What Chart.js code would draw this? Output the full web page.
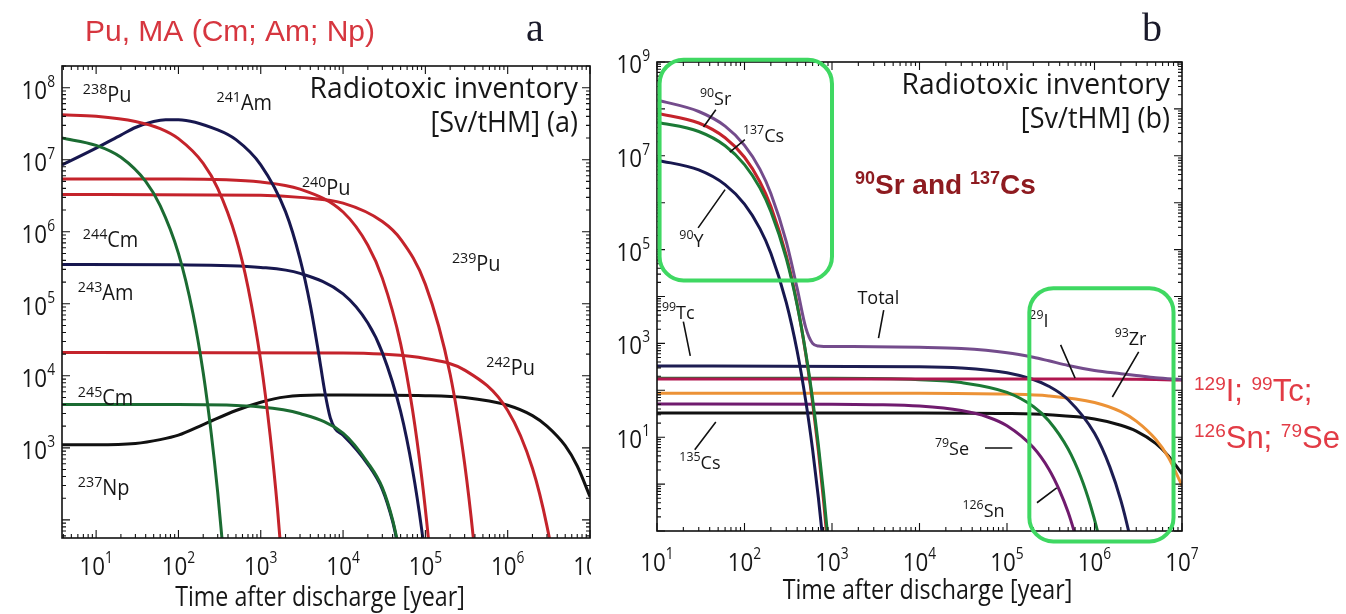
<!DOCTYPE html>
<html>
<head>
<meta charset="utf-8">
<script src="https://cdn.jsdelivr.net/npm/chart.js@4.4.1/dist/chart.umd.min.js"></script>
<style>
  html, body { margin: 0; padding: 0; background: #fff; }
  #wrap { position: relative; width: 1346px; height: 614px; }
  #boxA { position: absolute; left: 0; top: 0; width: 598px; height: 614px; }
  #boxB { position: absolute; left: 598px; top: 0; width: 748px; height: 614px; }
</style>
</head>
<body>
<div id="wrap">
  <div id="boxA"><canvas id="chartA"></canvas></div>
  <div id="boxB"><canvas id="chartB"></canvas></div>
</div>
<script>
// [time after discharge (year), radiotoxicity (Sv/tHM)]

// panel a: Pu and minor actinides
const pu238 = [[3.85, 4.2e7], [10, 4.0e7], [30, 3.4e7], [60, 2.7e7], [100, 1.96e7], [200, 8.9e6], [300, 4.0e6], [500, 8.3e5], [700, 1.7e5], [1000, 1.6e4], [1300, 1.5e3], [1600, 140], [2000, 6]];
const cm244 = [[3.85, 2.0e7], [10, 1.58e7], [20, 1.08e7], [40, 5.0e6], [60, 2.3e6], [100, 5.0e5], [150, 7.4e4], [200, 1.1e4], [250, 1.6e3], [300, 240], [350, 36], [400, 5.3]];
const am241 = [[3.85, 8.5e6], [5, 9.8e6], [10, 1.45e7], [20, 2.2e7], [30, 2.8e7], [50, 3.4e7], [70, 3.6e7], [100, 3.6e7], [300, 2.6e7], [500, 1.9e7], [1000, 8.5e6], [2000, 1.9e6], [3000, 4.2e5], [4000, 9.5e4], [5000, 2.2e4], [6000, 6.0e3], [7000, 2.6e3], [8000, 1.85e3], [1e4, 1.5e3], [2e4, 590], [3e4, 265], [4e4, 95], [4.5e4, 52], [5e4, 28]];
const pu240 = [[3.85, 5.4e6], [100, 5.4e6], [1000, 4.9e6], [3000, 3.9e6], [1e4, 1.88e6], [2e4, 6.5e5], [3e4, 2.27e5], [5e4, 2.8e4], [7e4, 3.3e3], [9e4, 400], [1.1e5, 49], [1.3e5, 6]];
const pu239 = [[3.85, 3.3e6], [1000, 3.2e6], [3000, 3.0e6], [1e4, 2.5e6], [3e4, 1.39e6], [5e4, 7.9e5], [1e5, 1.86e5], [2e5, 1.05e4], [3e5, 600], [4e5, 34], [5e5, 1.9]];
const am243 = [[3.85, 3.5e5], [100, 3.47e5], [1000, 3.2e5], [3000, 2.64e5], [1e4, 1.37e5], [2e4, 5.4e4], [3e4, 2.1e4], [5e4, 3.2e3], [7e4, 490], [9e4, 75], [1.1e5, 11]];
const pu242 = [[3.85, 2.1e4], [1e4, 2.08e4], [3e4, 2.0e4], [1e5, 1.74e4], [3e5, 1.2e4], [1e6, 3.3e3], [2e6, 520], [3e6, 82], [4e6, 13], [5e6, 2]];
const cm245 = [[3.85, 4.0e3], [100, 4.0e3], [1000, 3.7e3], [3000, 3.0e3], [1e4, 1.6e3], [2e4, 620], [3e4, 280], [4e4, 100], [4.5e4, 55], [5e4, 30], [6e4, 9]];
const np237 = [[3.85, 1.1e3], [10, 1.1e3], [30, 1.15e3], [60, 1.3e3], [100, 1.5e3], [200, 2.1e3], [500, 3.3e3], [1000, 4.3e3], [2000, 5.1e3], [5000, 5.4e3], [1e4, 5.4e3], [1e5, 5.3e3], [3e5, 5.0e3], [1e6, 3.9e3], [2e6, 2.8e3], [3e6, 2.0e3], [5e6, 1.07e3], [7e6, 560], [1e7, 210]];

// panel b: fission products
const total = [[10, 1.55e8], [30, 8.8e7], [60, 4.3e7], [100, 1.67e7], [150, 5.2e6], [200, 1.57e6], [300, 1.48e5], [400, 1.49e4], [500, 2.2e3], [600, 1.0e3], [700, 880], [1000, 856], [3000, 853], [1e4, 828], [3e4, 777], [1e5, 634], [2e5, 506], [3e5, 425], [5e5, 338], [1e6, 265], [2e6, 226], [3e6, 207], [5e6, 185], [1e7, 168]];
const sr90 = [[10, 8.1e7], [30, 5.0e7], [60, 2.43e7], [100, 9.3e6], [150, 2.8e6], [200, 8.4e5], [300, 7.5e4], [400, 6.8e3], [500, 610], [600, 55], [700, 5], [800, 0.45], [900, 0.04]];
const cs137 = [[10, 5.2e7], [30, 3.3e7], [60, 1.64e7], [100, 6.5e6], [150, 2.07e6], [200, 6.5e5], [300, 6.5e4], [400, 6.5e3], [500, 650], [600, 65], [700, 6.6], [800, 0.67], [900, 0.067]];
const y90 = [[10, 8.1e6], [30, 5.0e6], [60, 2.43e6], [100, 9.3e5], [150, 2.8e5], [200, 8.4e4], [300, 7.5e3], [400, 680], [500, 61], [600, 5.5], [700, 0.5], [800, 0.045]];
const tc99 = [[10, 330], [1e4, 319], [3e4, 300], [1e5, 237], [2e5, 170], [3e5, 122], [5e5, 63], [1e6, 12.1], [1.5e6, 2.3], [2e6, 0.45], [2.5e6, 0.086], [3e6, 0.017]];
const i129 = [[10, 175], [1e5, 175], [1e6, 174], [3e6, 171], [5e6, 169], [1e7, 165]];
const zr93 = [[10, 87], [1e4, 87], [1e5, 83], [3e5, 76], [1e6, 55], [2e6, 35], [3e6, 22], [5e6, 9.0], [7e6, 3.7], [1e7, 0.93]];
const se79 = [[10, 51], [1000, 50.5], [3000, 49.4], [1e4, 46], [3e4, 37], [6e4, 27], [1e5, 17.5], [2e5, 6.0], [3e5, 2.1], [4e5, 0.72], [5e5, 0.25], [6e5, 0.084], [7e5, 0.029]];
const cs135 = [[10, 33], [1e4, 33], [1e5, 32], [3e5, 30], [1e6, 24.4], [2e6, 18], [3e6, 13.5], [5e6, 7.4], [7e6, 4.0], [1e7, 1.65]];
const sn126 = [[10, 180], [1000, 180], [1e4, 168], [3e4, 146], [1e5, 90], [2e5, 45], [3e5, 22.5], [5e5, 5.6], [7e5, 1.4], [9e5, 0.35], [1.1e6, 0.088], [1.3e6, 0.022]];

// decade exponents that carry a tick label
const tickExpAx = [1, 2, 3, 4, 5, 6, 7];
const tickExpAy = [3, 4, 5, 6, 7, 8];
const tickExpBx = [1, 2, 3, 4, 5, 6, 7];
const tickExpBy = [1, 3, 5, 7, 9];

// curve labels: mass number, symbol, x, y (data units)
const isoA = [
  ['238', 'Pu', 6.9, 8e7], ['241', 'Am', 290, 6.2e7], ['240', 'Pu', 3160, 4.1e6],
  ['244', 'Cm', 6.9, 7.6e5], ['239', 'Pu', 2.1e5, 3.6e5], ['243', 'Am', 6.0, 1.4e5],
  ['242', 'Pu', 5.5e5, 1.3e4], ['245', 'Cm', 6.0, 4.9e3], ['237', 'Np', 6.0, 280]
];
const isoB = [
  ['90', 'Sr', 31, 1.7e8], ['137', 'Cs', 96, 2.8e7], ['90', 'Y', 18, 1.6e5],
  ['99', 'Tc', 11.4, 4.7e3], ['135', 'Cs', 18, 2.95], ['29', 'I', 1.8e5, 3.2e3],
  ['93', 'Zr', 1.7e6, 1.3e3], ['79', 'Se', 1.5e4, 5.9], ['126', 'Sn', 3.1e4, 0.28],
  ['', 'Total', 1950, 9.8e3]
];
// pointer lines x1, y1, x2, y2 (data units)
const ptrB = [
  [47, 9.6e7, 34, 4.1e7], [101, 2.2e7, 68, 1.2e7], [29.5, 2.9e5, 60, 1.9e6],
  [3900, 5.1e3, 3400, 1.3e3], [20, 2.9e3, 24, 540], [27, 5.4, 47, 21],
  [4.1e5, 930, 6e5, 182], [3.2e6, 660, 1.6e6, 72], [5.6e4, 5.9, 1.15e5, 5.9],
  [2.2e5, 0.4, 3.7e5, 0.83]
];
// highlighted regions x1, y1, x2, y2 (data units)
const boxB = [[10.7, 1.12e9, 1000, 2.2e4], [1.8e5, 1.5e4, 8e6, 0.06]];

const FONT = '"Open Sans", "Noto Sans", sans-serif';
const ARIAL = '"Liberation Sans", Arial, sans-serif';
const SERIF = '"Liberation Serif", "DejaVu Serif", serif';
const HS = 0.86;

// draw text runs [text, size, raise] left to right from a baseline
function runs(ctx, x, y, parts, o = {}) {
  const sx = o.squeeze || 1;
  const fam = o.family || FONT;
  const wt = o.weight || 400;
  ctx.save();
  ctx.fillStyle = o.color || '#161616';
  ctx.textBaseline = 'alphabetic';
  ctx.textAlign = 'left';
  let w = 0;
  for (const [t, s] of parts) {
    ctx.font = `${wt} ${s}px ${fam}`;
    w += ctx.measureText(t).width;
  }
  let cx = x;
  if (o.align === 'center') cx = x - w * sx / 2;
  if (o.align === 'right') cx = x - w * sx;
  ctx.translate(cx, y);
  ctx.scale(sx, 1);
  let px = 0;
  for (const [t, s, r] of parts) {
    ctx.font = `${wt} ${s}px ${fam}`;
    ctx.fillText(t, px, -(r || 0));
    px += ctx.measureText(t).width;
  }
  ctx.restore();
}

function logTicks(min, max) {
  const out = [];
  for (let e = Math.floor(Math.log10(min)); e <= Math.ceil(Math.log10(max)); e++) {
    for (let k = 1; k < 10; k++) {
      const v = k * Math.pow(10, e);
      if (v >= min * 0.999 && v <= max * 1.001) out.push([v, k === 1]);
    }
  }
  return out;
}

function roundBox(ctx, x1, y1, x2, y2, r) {
  ctx.beginPath();
  ctx.moveTo(x1 + r, y1);
  ctx.arcTo(x2, y1, x2, y2, r);
  ctx.arcTo(x2, y2, x1, y2, r);
  ctx.arcTo(x1, y2, x1, y1, r);
  ctx.arcTo(x1, y1, x2, y1, r);
  ctx.closePath();
  ctx.stroke();
}

const panels = {
  chartA: {xExp: tickExpAx, yExp: tickExpAy, iso: isoA, ptr: [], boxes: [], tag: '(a)', clipX: 591, mass: 15, sym: 21, xLab: 37, titleDx: -6},
  chartB: {xExp: tickExpBx, yExp: tickExpBy, iso: isoB, ptr: ptrB, boxes: boxB, tag: '(b)', clipX: 9999, mass: 13, sym: 19, xLab: 40, titleDx: 8}
};

const frame = {
  id: 'frame',
  afterDraw(chart) {
    const p = panels[chart.canvas.id];
    const {ctx, chartArea: a} = chart;
    const xs = chart.scales.x, ys = chart.scales.y;
    ctx.save();
    // axes box with inward ticks
    ctx.strokeStyle = '#111';
    ctx.lineWidth = 1.6;
    ctx.strokeRect(a.left, a.top, a.right - a.left, a.bottom - a.top);
    ctx.lineWidth = 1.1;
    ctx.beginPath();
    logTicks(xs.min, xs.max).forEach(([v, major]) => {
      const q = xs.getPixelForValue(v), l = major ? 8 : 4;
      ctx.moveTo(q, a.bottom); ctx.lineTo(q, a.bottom - l);
      ctx.moveTo(q, a.top); ctx.lineTo(q, a.top + l);
    });
    logTicks(ys.min, ys.max).forEach(([v, major]) => {
      const q = ys.getPixelForValue(v), l = major ? 8 : 4;
      ctx.moveTo(a.left, q); ctx.lineTo(a.left + l, q);
      ctx.moveTo(a.right, q); ctx.lineTo(a.right - l, q);
    });
    ctx.stroke();

    // tick labels
    ctx.save();
    ctx.beginPath();
    ctx.rect(0, 0, p.clipX, chart.height);
    ctx.clip();
    p.xExp.forEach(e => {
      runs(ctx, xs.getPixelForValue(Math.pow(10, e)), a.bottom + p.xLab, [['10', 26], [String(e), 16, 12]], {align: 'center', squeeze: HS});
    });
    ctx.restore();
    p.yExp.forEach(e => {
      runs(ctx, a.left - 7, ys.getPixelForValue(Math.pow(10, e)) + 11, [['10', 26], [String(e), 16, 12]], {align: 'right', squeeze: HS});
    });
    runs(ctx, (a.left + a.right) / 2 + p.titleDx, a.bottom + 68, [['Time after discharge [year]', 27]], {align: 'center', squeeze: HS});
    runs(ctx, a.right - 12, a.top + 32, [['Radiotoxic inventory', 30]], {align: 'right', squeeze: 0.94});
    runs(ctx, a.right - 12, a.top + 66, [['[Sv/tHM] ' + p.tag, 30]], {align: 'right', squeeze: 0.9});

    // curve labels and pointers
    p.iso.forEach(([m, s, vx, vy]) => {
      const parts = m ? [[m, p.mass, 8], [s, p.sym]] : [[s, p.sym]];
      runs(ctx, xs.getPixelForValue(vx), ys.getPixelForValue(vy) + 7, parts, {squeeze: 0.95});
    });
    ctx.strokeStyle = '#111';
    ctx.lineWidth = 1.6;
    ctx.beginPath();
    p.ptr.forEach(([x1, y1, x2, y2]) => {
      ctx.moveTo(xs.getPixelForValue(x1), ys.getPixelForValue(y1));
      ctx.lineTo(xs.getPixelForValue(x2), ys.getPixelForValue(y2));
    });
    ctx.stroke();

    // highlight boxes
    ctx.strokeStyle = '#3fd862';
    ctx.lineWidth = 4;
    p.boxes.forEach(([x1, y1, x2, y2]) => {
      roundBox(ctx, xs.getPixelForValue(x1), ys.getPixelForValue(y1), xs.getPixelForValue(x2), ys.getPixelForValue(y2), 24);
    });

    // titles and side notes
    if (chart.canvas.id === 'chartA') {
      runs(ctx, 85, 41, [['Pu, MA (Cm; Am; Np)', 30]], {family: ARIAL, color: '#d6363f'});
      runs(ctx, 535, 41, [['a', 40]], {family: SERIF, align: 'center', color: '#1a1a2a'});
    } else {
      runs(ctx, 554, 41, [['b', 40]], {family: SERIF, align: 'center', color: '#1a1a2a'});
      runs(ctx, a.left + 198, a.top + 132, [['90', 18, 10], ['Sr and ', 28], ['137', 18, 10], ['Cs', 28]], {family: ARIAL, weight: 700, color: '#8e1b20'});
      runs(ctx, a.right + 12, 401, [['129', 19, 11], ['I; ', 31], ['99', 19, 11], ['Tc;', 31]], {family: ARIAL, color: '#e23b45'});
      runs(ctx, a.right + 12, 448, [['126', 19, 11], ['Sn; ', 31], ['79', 19, 11], ['Se', 31]], {family: ARIAL, color: '#e23b45'});
    }
    ctx.restore();
  }
};

const xy = arr => arr.map(([x, y]) => ({x, y}));
const line = (label, arr, color) => ({
  label, data: xy(arr), borderColor: color, borderWidth: 3, pointRadius: 0,
  fill: false, cubicInterpolationMode: 'monotone'
});

const RED = '#c4232b', NAVY = '#17174f', GREEN = '#1b6b32', BLACK = '#111111';

const base = (pad, xr, yr) => ({
  responsive: true,
  maintainAspectRatio: false,
  animation: false,
  events: [],
  layout: {padding: pad},
  scales: {
    x: {type: 'logarithmic', min: xr[0], max: xr[1], display: false},
    y: {type: 'logarithmic', min: yr[0], max: yr[1], display: false}
  },
  plugins: {legend: {display: false}, tooltip: {enabled: false}}
});

new Chart(document.getElementById('chartA'), {
  type: 'line',
  data: {
    datasets: [
      line('238Pu', pu238, RED),
      line('244Cm', cm244, GREEN),
      line('245Cm', cm245, GREEN),
      line('241Am', am241, NAVY),
      line('240Pu', pu240, RED),
      line('239Pu', pu239, RED),
      line('243Am', am243, NAVY),
      line('242Pu', pu242, RED),
      line('237Np', np237, BLACK)
    ]
  },
  options: base({left: 62, right: 8, top: 66, bottom: 76}, [3.85, 1e7], [56, 2e8]),
  plugins: [frame]
});

new Chart(document.getElementById('chartB'), {
  type: 'line',
  data: {
    datasets: [
      line('137Cs', cs137, '#1b7a35'),
      line('90Sr', sr90, RED),
      line('Total', total, '#744c8c'),
      line('90Y', y90, NAVY),
      line('129I', i129, '#b0164f'),
      line('126Sn', sn126, '#1b7a35'),
      line('99Tc', tc99, '#1d1d52'),
      line('93Zr', zr93, '#ec9236'),
      line('79Se', se79, '#701b6e'),
      line('135Cs', cs135, BLACK)
    ]
  },
  options: base({left: 59, right: 164, top: 62, bottom: 83}, [10, 1e7], [0.1, 1e9]),
  plugins: [frame]
});
</script>
</body>
</html>
